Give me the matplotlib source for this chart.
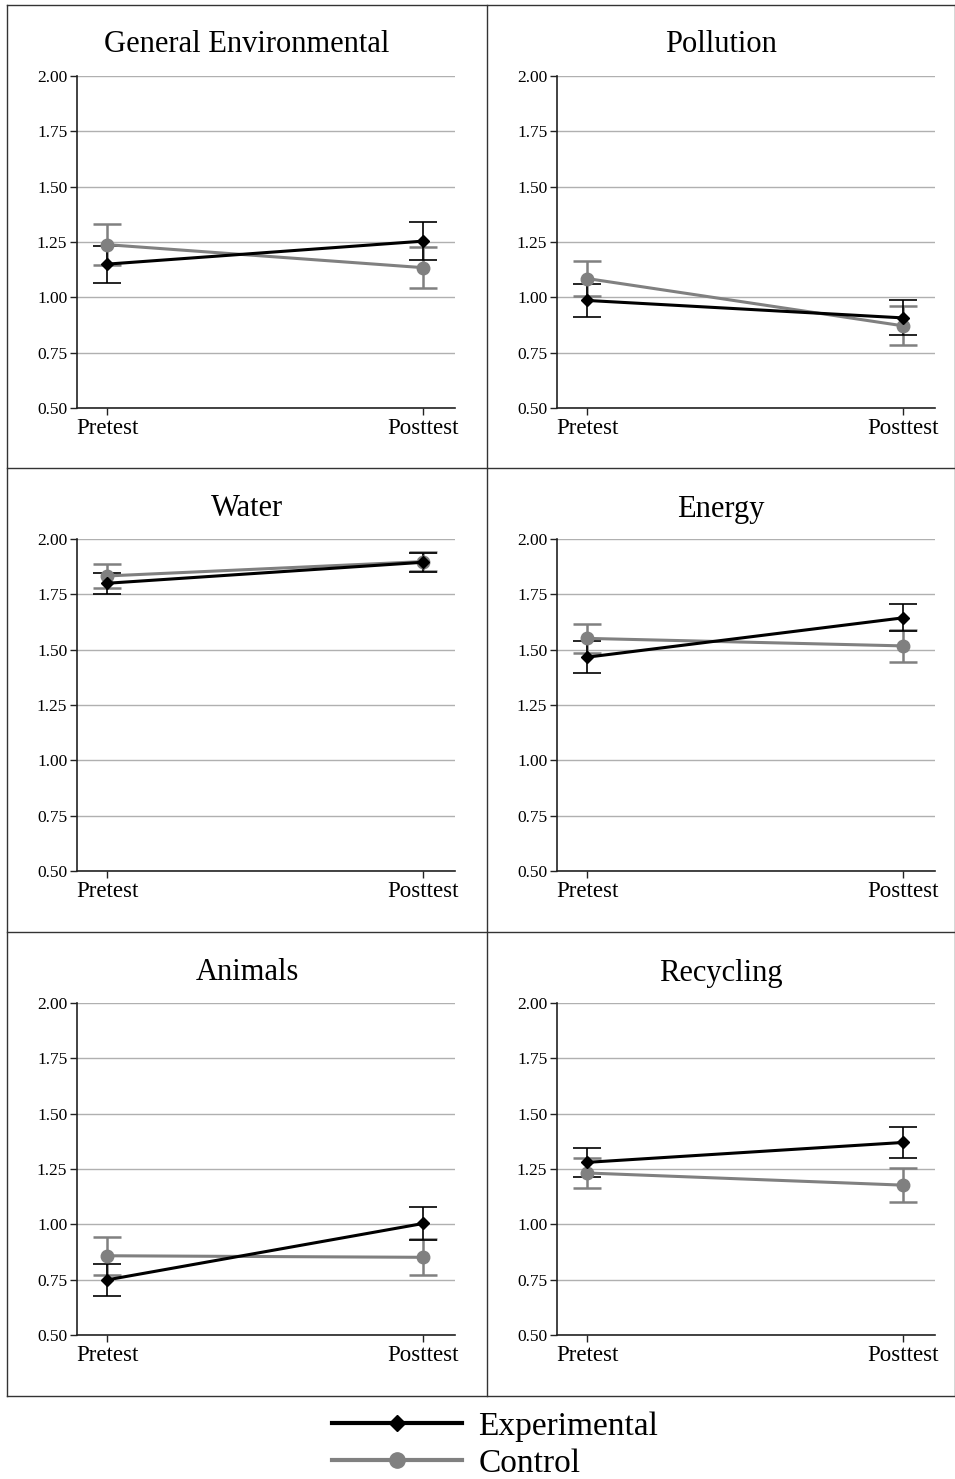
import matplotlib
matplotlib.use("Agg")
import matplotlib.pyplot as plt
from matplotlib.lines import Line2D

plt.rcParams['font.family'] = ['Liberation Serif', 'DejaVu Serif']

phases = ["Pretest", "Posttest"]
titles = ["General Environmental", "Pollution", "Water", "Energy", "Animals", "Recycling"]

# means (pretest, posttest) and error bar half widths
exp_mean = [[1.150, 1.254], [0.986, 0.907], [1.800, 1.895],
            [1.466, 1.644], [0.749, 1.004], [1.280, 1.370]]
exp_err = [[0.083, 0.087], [0.074, 0.079], [0.048, 0.043],
           [0.072, 0.061], [0.073, 0.073], [0.066, 0.069]]
ctl_mean = [[1.238, 1.134], [1.085, 0.871], [1.833, 1.898],
            [1.551, 1.517], [0.858, 0.851], [1.232, 1.177]]
ctl_err = [[0.092, 0.092], [0.081, 0.088], [0.053, 0.043],
           [0.067, 0.073], [0.087, 0.081], [0.067, 0.078]]
yticks = [0.50, 0.75, 1.00, 1.25, 1.50, 1.75, 2.00]

W, H = 955, 1479
fig = plt.figure(figsize=(W / 100, H / 100), dpi=100)

cell_x = [7, 487, 955]
cell_y = [5, 468, 932, 1396]
ax_left = [77, 557]
ax_bottom = [408, 871, 1335]
ax_w, ax_h = 378, 332

# panel frame lines
for x in cell_x:
    fig.add_artist(Line2D([x / W, x / W], [1 - cell_y[0] / H, 1 - cell_y[-1] / H],
                          color="#333333", lw=1))
for y in cell_y:
    fig.add_artist(Line2D([cell_x[0] / W, cell_x[-1] / W], [1 - y / H, 1 - y / H],
                          color="#333333", lw=1))

for i in range(6):
    r, c = divmod(i, 2)
    ax = fig.add_axes([ax_left[c] / W, 1 - ax_bottom[r] / H, ax_w / W, ax_h / H])
    x = [0, 1]
    ax.errorbar(x, ctl_mean[i], yerr=ctl_err[i], color="#808080", lw=2.2,
                marker="o", markersize=9, capsize=10, capthick=1.8, elinewidth=1.8,
                label="Control")
    ax.errorbar(x, exp_mean[i], yerr=exp_err[i], color="black", lw=2.2,
                marker="D", markersize=6, capsize=10, capthick=1.2, elinewidth=1.2,
                label="Experimental")
    ax.set_xlim(-0.095, 1.1)
    ax.set_ylim(0.5, 2.0)
    ax.set_yticks(yticks)
    ax.set_yticklabels(["%.2f" % v for v in yticks], fontsize=12.5)
    ax.set_xticks(x)
    ax.set_xticklabels(phases, fontsize=16.5)
    ax.tick_params(axis="both", direction="out", length=5, width=1, color="#222222")
    ax.tick_params(axis="y", pad=2)
    ax.tick_params(axis="x", pad=2)
    ax.grid(axis="y", color="#b0b0b0", lw=1)
    ax.set_axisbelow(True)
    for s in ["top", "right"]:
        ax.spines[s].set_visible(False)
    for s in ["left", "bottom"]:
        ax.spines[s].set_color("#222222")
        ax.spines[s].set_linewidth(1.2)
    cx = (cell_x[c] + cell_x[c + 1]) / 2
    fig.text(cx / W, 1 - 45 / H - r * 464 / H, titles[i], fontsize=22,
             ha="center", va="center")

handles = [Line2D([], [], color="black", lw=3, marker="D", markersize=8),
           Line2D([], [], color="#808080", lw=3, marker="o", markersize=11)]
fig.legend(handles, ["Experimental", "Control"], loc="upper center",
           bbox_to_anchor=(495 / W, 1 - 1395 / H), frameon=False, fontsize=24,
           handlelength=3.9, handletextpad=0.5, labelspacing=0.18, borderpad=0)

fig.savefig("out.png", dpi=100)
